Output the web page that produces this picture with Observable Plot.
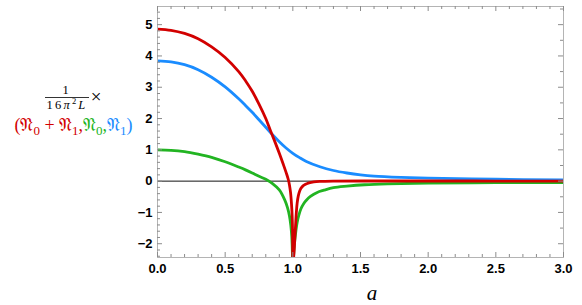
<!DOCTYPE html>
<html><head><meta charset="utf-8">
<script src="https://cdn.jsdelivr.net/npm/d3@7"></script>
<script src="https://cdn.jsdelivr.net/npm/@observablehq/plot@0.6"></script>
<style>body{margin:0;background:#fff}</style>
</head><body><div id="chart"></div>
<script>
// Red: N0 + N1
const aRed = [0,0.1,0.2,0.3,0.4,0.5,0.6,0.65,0.7,0.75,0.8,0.835,0.87,0.9,0.93,0.95,0.966,0.975,0.983,0.99,0.995,0.998,1.0,1.004,1.01,1.015,1.02,1.026,1.032,1.04,1.05,1.06,1.075,1.094,1.12,1.155,1.2,1.3,1.6,2.0,2.5,3.0];
const vRed = [4.86,4.82,4.72,4.55,4.29,3.95,3.50,3.21,2.87,2.46,2.00,1.61,1.23,0.89,0.53,0.28,0.06,-0.12,-0.36,-0.72,-1.12,-1.6,-4,-2.6,-2.2,-1.8,-1.43,-1.0,-0.70,-0.48,-0.32,-0.23,-0.15,-0.10,-0.055,-0.025,-0.01,0.0,0.005,0.005,0.003,0.0];
// Green: N0
const aGreen = [0,0.1,0.2,0.3,0.4,0.5,0.6,0.65,0.7,0.75,0.8,0.85,0.9,0.94,0.96,0.975,0.985,0.992,0.997,1.0,1.005,1.01,1.02,1.032,1.045,1.06,1.08,1.1,1.13,1.18,1.23,1.3,1.4,1.53,1.7,2.0,2.5,3.0];
const vGreen = [1.00,0.985,0.94,0.86,0.76,0.62,0.45,0.36,0.26,0.155,0.06,-0.08,-0.28,-0.60,-0.84,-1.11,-1.41,-1.77,-2.35,-4,-2.45,-2.1,-1.68,-1.32,-1.08,-0.88,-0.72,-0.61,-0.49,-0.36,-0.29,-0.21,-0.16,-0.115,-0.085,-0.06,-0.05,-0.045];
// Blue: N1
const aBlue = [0,0.1,0.2,0.3,0.4,0.5,0.6,0.65,0.7,0.75,0.8,0.85,0.9,0.95,1.0,1.05,1.1,1.2,1.3,1.4,1.5,1.6,1.8,2.0,2.5,3.0];
const vBlue = [3.84,3.81,3.72,3.56,3.32,3.01,2.63,2.42,2.20,1.96,1.72,1.48,1.26,1.06,0.89,0.75,0.63,0.46,0.34,0.26,0.20,0.16,0.12,0.095,0.06,0.04];

const xTickLabels = [0,0.5,1,1.5,2,2.5,3];
const yTickLabels = [-2,-1,0,1,2,3,4,5];
const xTicks = d3.range(0,31).map(i=>i/10);
const yTicksLeft = d3.range(-12,28).map(i=>i/5);
const yTicksRight = d3.range(-4,12).map(i=>i/2);

const rows = (A,V)=>A.map((a,i)=>({a, v:V[i]}));
const W=582,H=305,mL=157,mR=19,mT=6,mB=48;
const pw=W-mL-mR, ph=H-mT-mB;
const isMajor=(d,s)=>Math.abs(d/s-Math.round(d/s))<1e-6;
const tickCol="#8c8c8c";
const RED="#d20000", GREEN="#22b422", BLUE="#1a8cff";

const chart = Plot.plot({
  width:W,height:H,marginLeft:mL,marginRight:mR,marginTop:mT,marginBottom:mB,
  x:{domain:[0,3]}, y:{domain:[-2.44,5.58]},
  style:{fontFamily:"'Liberation Sans', Arial, sans-serif", background:"#fff"},
  marks:[
    Plot.ruleY([0],{stroke:"#111",strokeWidth:1}),
    Plot.line(rows(aBlue,vBlue),{x:"a",y:"v",stroke:BLUE,strokeWidth:2.8,curve:"catmull-rom",clip:true}),
    Plot.line(rows(aGreen,vGreen),{x:"a",y:"v",stroke:GREEN,strokeWidth:2.8,curve:"catmull-rom",clip:true}),
    Plot.line(rows(aRed,vRed),{x:"a",y:"v",stroke:RED,strokeWidth:2.8,curve:"catmull-rom",clip:true}),
    Plot.frame({stroke:"#b4b4b4",strokeWidth:1}),
    Plot.tickX(xTicks.filter(d=>!isMajor(d,0.5)),{x:d=>d,stroke:tickCol,insetTop:ph-3}),
    Plot.tickX(xTicks.filter(d=>isMajor(d,0.5)),{x:d=>d,stroke:tickCol,insetTop:ph-5}),
    Plot.tickX(xTicks.filter(d=>!isMajor(d,0.5)),{x:d=>d,stroke:tickCol,insetBottom:ph-3}),
    Plot.tickX(xTicks.filter(d=>isMajor(d,0.5)),{x:d=>d,stroke:tickCol,insetBottom:ph-5}),
    Plot.tickY(yTicksLeft.filter(d=>!isMajor(d,1)),{y:d=>d,stroke:tickCol,insetRight:pw-3}),
    Plot.tickY(yTicksLeft.filter(d=>isMajor(d,1)),{y:d=>d,stroke:tickCol,insetRight:pw-5}),
    Plot.tickY(yTicksRight.filter(d=>!isMajor(d,1)),{y:d=>d,stroke:tickCol,insetLeft:pw-3}),
    Plot.tickY(yTicksRight.filter(d=>isMajor(d,1)),{y:d=>d,stroke:tickCol,insetLeft:pw-5}),
    Plot.axisX(xTickLabels,{tickSize:0,tickPadding:6,tickFormat:d=>d.toFixed(1),fontSize:13,fontWeight:"bold",fill:"#000",label:null}),
    Plot.axisY(yTickLabels,{tickSize:0,tickPadding:5,tickFormat:d=>d<0?"\u2212"+(-d):String(d),fontSize:13,fontWeight:"bold",fill:"#000",label:null})
  ]
});
document.getElementById("chart").appendChild(chart);

const svg = d3.select(chart);
const serif = "'Liberation Serif','DejaVu Serif',serif";
// x label
svg.append("text").attr("x",372).attr("y",300).attr("text-anchor","middle")
  .attr("font-family",serif).attr("font-style","italic").attr("font-size",21).text("a");
// y label: fraction
const g = svg.append("g").attr("font-family",serif);
g.append("text").attr("x",65.5).attr("y",94).attr("text-anchor","middle").attr("font-size",12.5).text("1");
g.append("line").attr("x1",45).attr("x2",89).attr("y1",97.5).attr("y2",97.5).attr("stroke","#000").attr("stroke-width",0.8);
const den = g.append("text").attr("x",46.5).attr("y",108.5).attr("text-anchor","start").attr("font-size",12.5).attr("letter-spacing",2.2);
den.append("tspan").text("16");
den.append("tspan").attr("font-style","italic").text("\u03C0");
den.append("tspan").attr("font-size",8.5).attr("dy",-5).text("2");
den.append("tspan").attr("font-style","italic").attr("dy",5).text("L");
g.append("text").attr("x",96).attr("y",103).attr("text-anchor","middle").attr("font-size",19).text("\u00D7");
// second line
const t = g.append("text").attr("x",73.5).attr("y",131).attr("text-anchor","middle").attr("font-size",18);
const N = "\u{1D511}";
const parts = [
  ["(", RED], [N,RED], ["0",RED,true], [" + ",RED], [N,RED], ["1",RED,true], [",",RED],
  [N,GREEN], ["0",GREEN,true], [",",GREEN],
  [N,BLUE], ["1",BLUE,true], [")",BLUE]
];
let prevSub=false;
for (const [s,c,sub] of parts){
  const ts=t.append("tspan").attr("fill",c).text(s);
  if(sub){ts.attr("font-size",13).attr("dy",prevSub?0:4);}
  else if(prevSub){ts.attr("dy",-4);}
  prevSub=!!sub;
}
</script></body></html>
